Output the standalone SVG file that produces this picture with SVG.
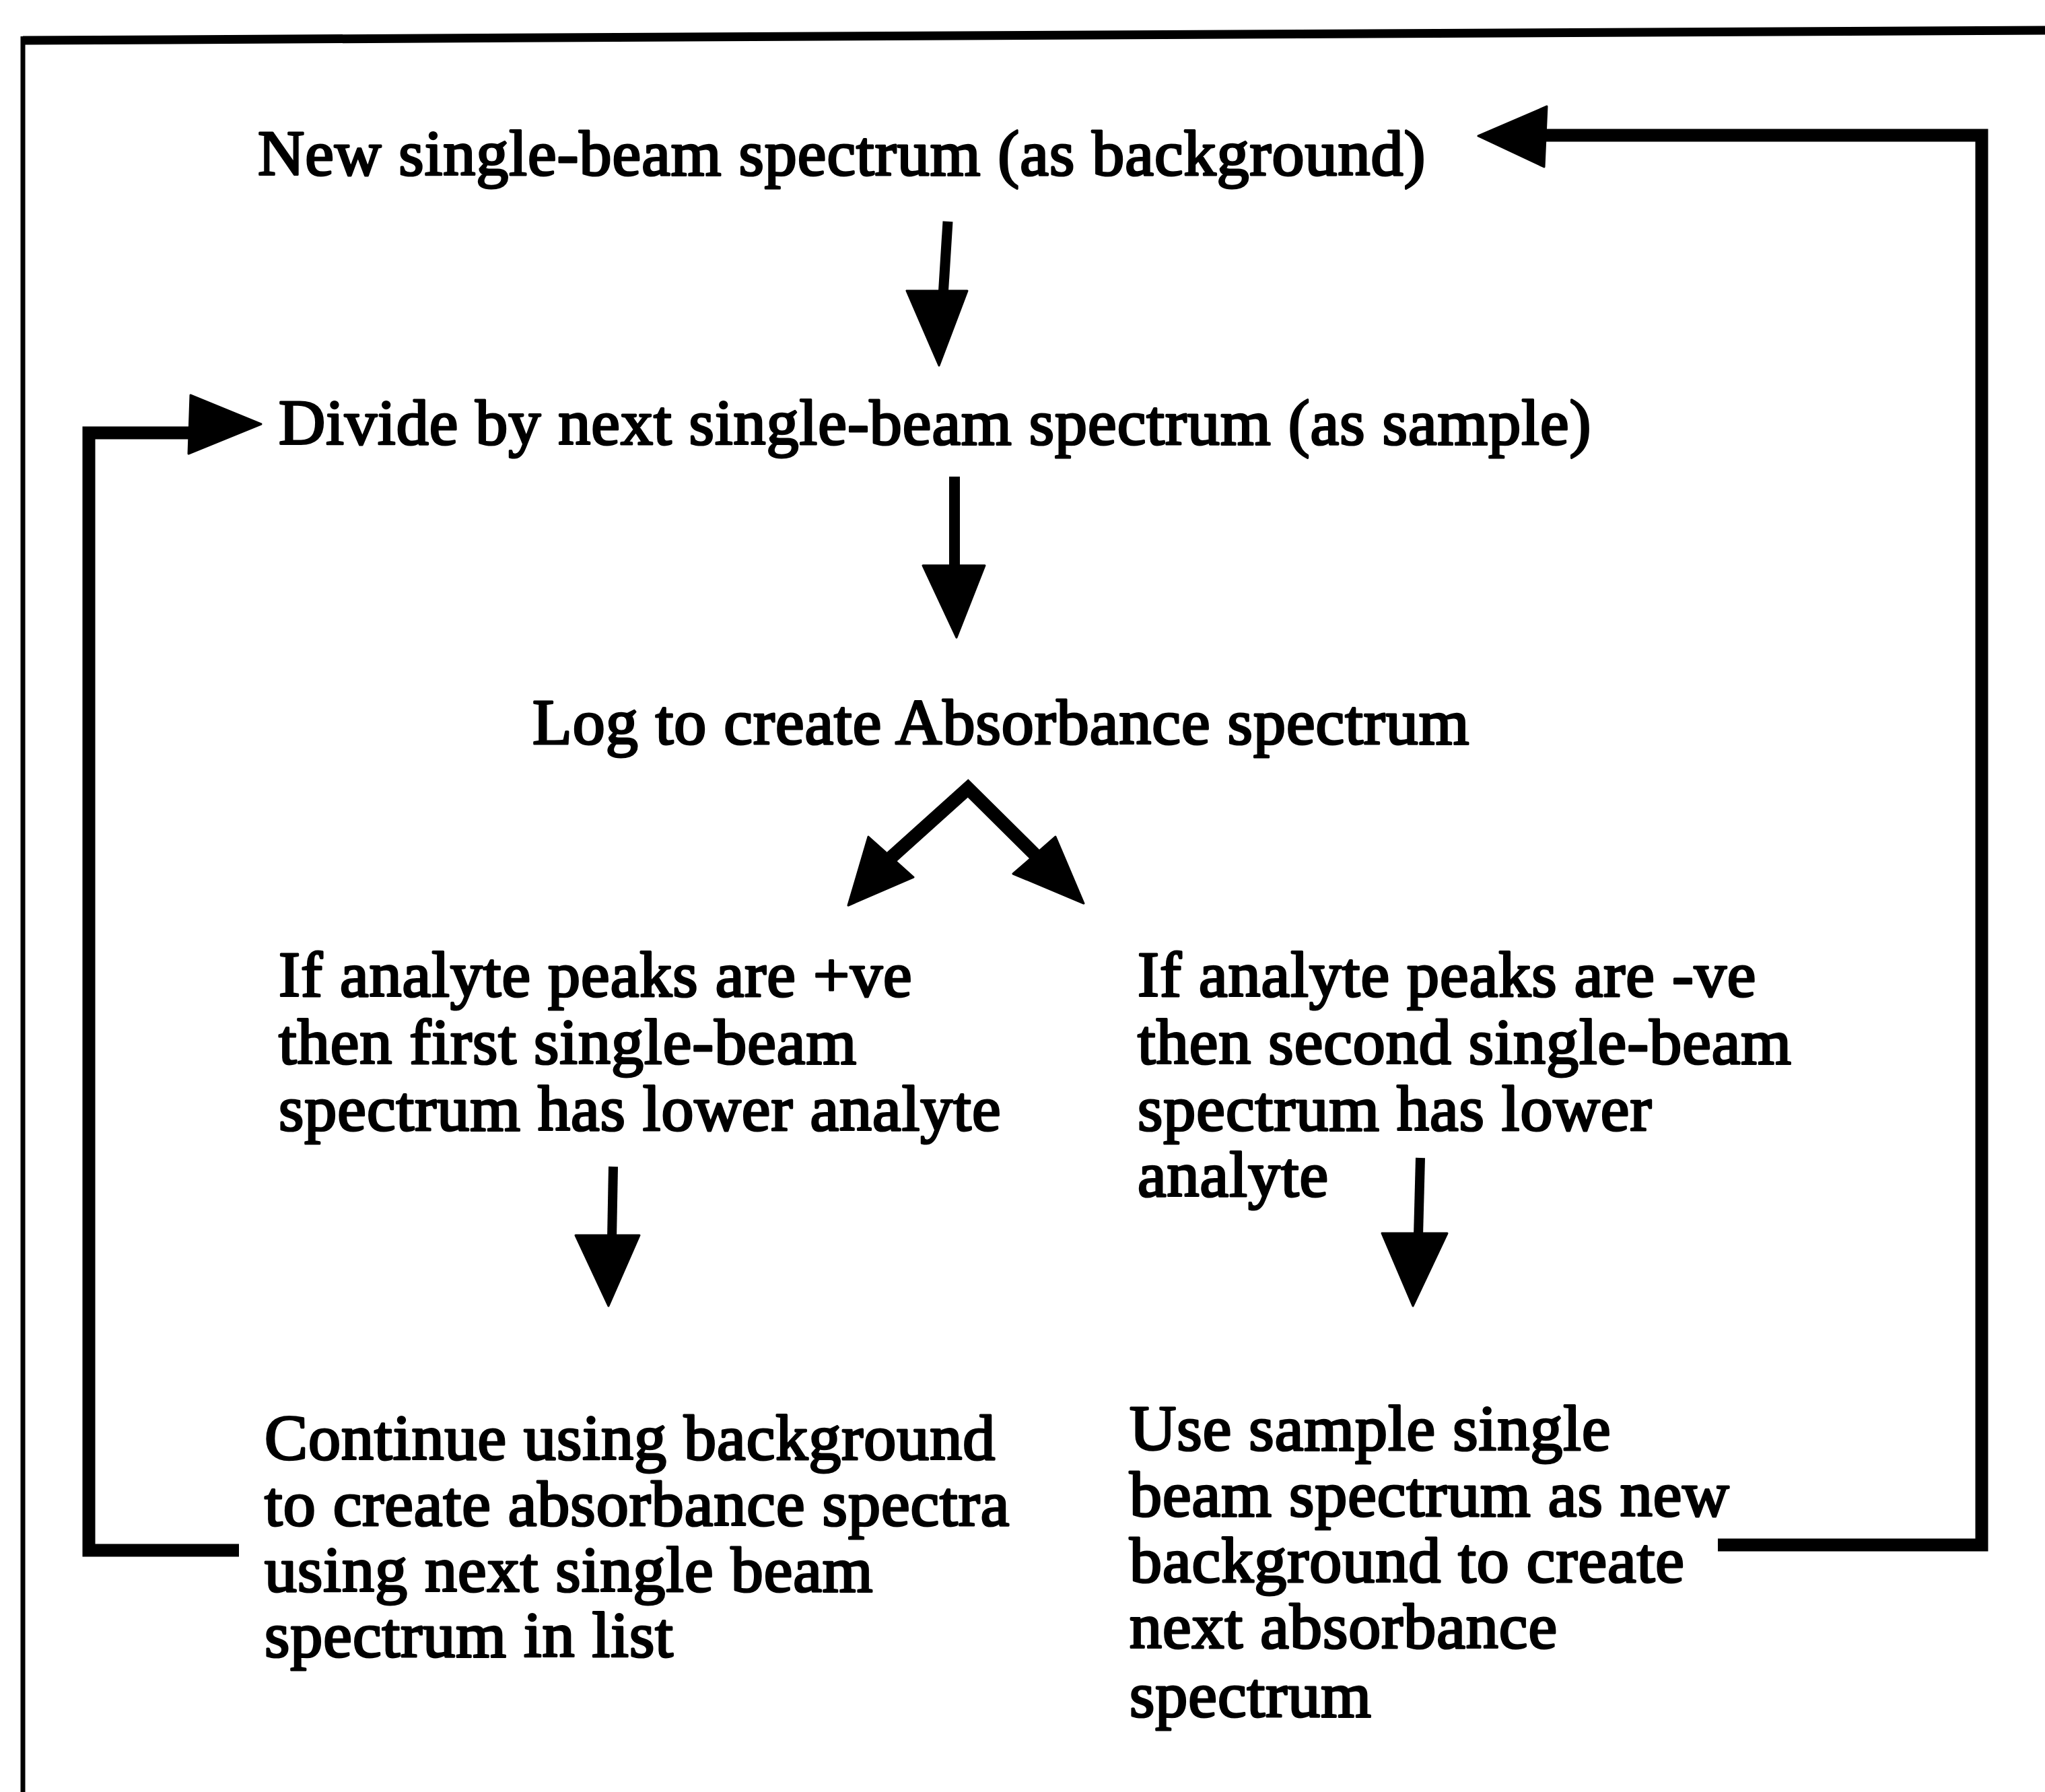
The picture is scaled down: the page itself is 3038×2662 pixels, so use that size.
<svg xmlns="http://www.w3.org/2000/svg" width="3038" height="2662" viewBox="0 0 3038 2662">
<style>
.t{font-family:"Liberation Serif","Times New Roman",serif;font-size:96px;letter-spacing:1px;fill:#000;stroke:#000;stroke-width:3.2px;stroke-linejoin:round}
.ln{fill:none;stroke:#000;stroke-linejoin:miter;stroke-linecap:butt}
.hd{fill:#000;stroke:#000;stroke-width:3;stroke-linejoin:round}
</style>
<rect width="3038" height="2662" fill="#fff"/>
<g id="frame">
<line class="ln" x1="34" y1="60" x2="3038" y2="45" stroke-width="13"/>
<line class="ln" x1="34" y1="54" x2="34" y2="2662" stroke-width="7"/>
</g>
<g id="n1"><text class="t" x="383" y="260">New single-beam spectrum (as background)</text></g>
<g id="n2"><text class="t" x="414" y="660">Divide by next single-beam spectrum (as sample)</text></g>
<g id="n3"><text class="t" x="791" y="1105">Log to create Absorbance spectrum</text></g>
<g id="n4"><text class="t" x="414" y="1480">If analyte peaks are +ve</text><text class="t" x="414" y="1580">then first single-beam</text><text class="t" x="414" y="1679">spectrum has lower analyte</text></g>
<g id="n5"><text class="t" x="1690" y="1480">If analyte peaks are -ve</text><text class="t" x="1690" y="1580">then second single-beam</text><text class="t" x="1690" y="1679">spectrum has lower</text><text class="t" x="1690" y="1777">analyte</text></g>
<g id="n6"><text class="t" x="393" y="2168">Continue using background</text><text class="t" x="393" y="2266">to create absorbance spectra</text><text class="t" x="393" y="2364">using next single beam</text><text class="t" x="393" y="2461">spectrum in list</text></g>
<g id="n7"><text class="t" x="1678" y="2154">Use sample single</text><text class="t" x="1678" y="2252">beam spectrum as new</text><text class="t" x="1678" y="2350">background to create</text><text class="t" x="1678" y="2448">next absorbance</text><text class="t" x="1678" y="2550">spectrum</text></g>
<g id="connectors">
<polyline class="ln" points="2552,2295 2944,2295 2944,201 2290,201" stroke-width="19"/>
<polygon class="hd" points="2196,202 2298,158 2294,248"/>
<polyline class="ln" points="355,2303 132,2303 132,643 290,643" stroke-width="19"/>
<polygon class="hd" points="283,587 388,630 280,674"/>
<line class="ln" x1="1408" y1="329" x2="1401" y2="440" stroke-width="15"/>
<polygon class="hd" points="1347,432 1437,432 1395,543"/>
<line class="ln" x1="1418" y1="708" x2="1418" y2="845" stroke-width="16"/>
<polygon class="hd" points="1371,840 1463,840 1421,947"/>
<polyline class="ln" points="1318,1279 1438,1171 1542,1274" stroke-width="20"/>
<polygon class="hd" points="1290,1243 1357,1303 1260,1345"/>
<polygon class="hd" points="1568,1243 1505,1298 1610,1342"/>
<line class="ln" x1="911" y1="1733" x2="909" y2="1840" stroke-width="14"/>
<polygon class="hd" points="855,1835 950,1835 904,1940"/>
<line class="ln" x1="2110" y1="1720" x2="2107" y2="1836" stroke-width="14"/>
<polygon class="hd" points="2053,1832 2150,1832 2099,1940"/>
</g>
</svg>
